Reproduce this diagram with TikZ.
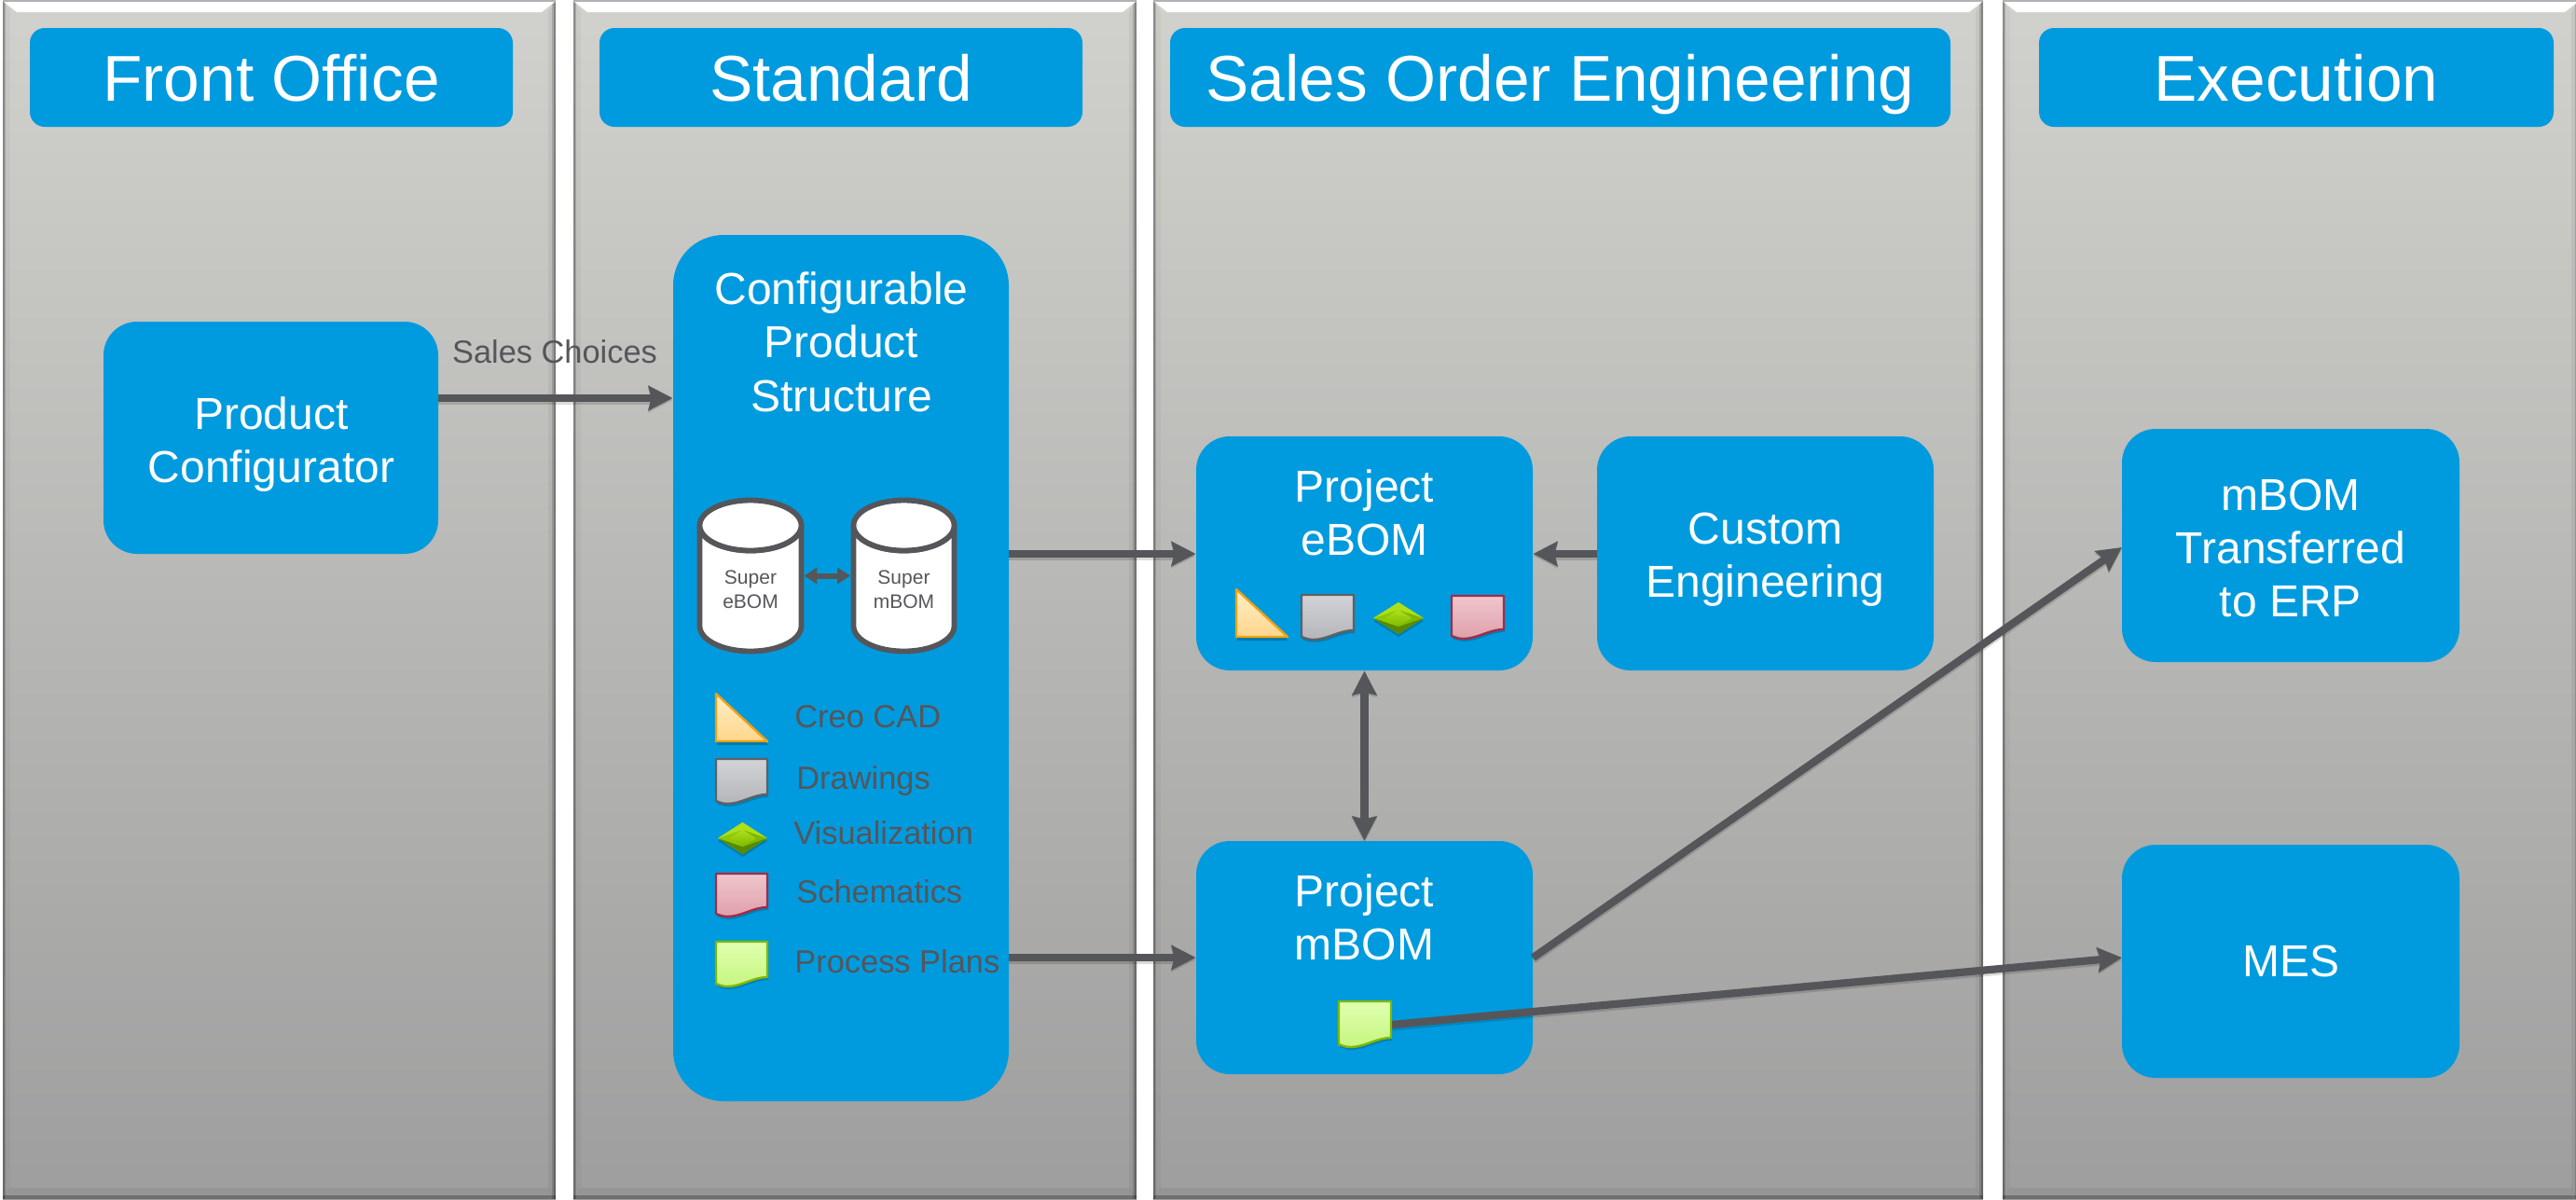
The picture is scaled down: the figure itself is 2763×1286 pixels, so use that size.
\documentclass[tikz,border=0pt]{standalone}
\usepackage{fontspec}
\setmainfont{Liberation Sans}
\usetikzlibrary{arrows.meta,calc}
\definecolor{bluebox}{HTML}{009BDE}
\definecolor{linegray}{HTML}{55565A}
\definecolor{pantop}{HTML}{D1D1CD}
\definecolor{panbot}{HTML}{9E9E9E}
\tikzset{
  x=0.5pt,y=-0.5pt,
  bigtip/.tip={Stealth[length=13pt,width=13pt,inset=1.5pt]},
  soft/.style={preaction={draw=black,draw opacity=.14,line width=4.6pt,transform canvas={yshift=-1pt}}},
  conn/.style={draw=linegray,line width=4.1pt,-bigtip,soft},
  connboth/.style={draw=linegray,line width=4.1pt,bigtip-bigtip,soft},
  connsmall/.style={draw=linegray,line width=3pt,{Triangle[length=7pt,width=8.5pt]}-{Triangle[length=7pt,width=8.5pt]}},
  boxtext/.style={text=white,align=center,font=\fontsize{24}{28.7}\selectfont},
  headtext/.style={text=white,text height=25pt,text depth=0pt,font=\fontsize{34.7}{40}\selectfont},
  legendtext/.style={text=linegray,anchor=base west,inner sep=0pt,font=\fontsize{17.2}{20}\selectfont},
  cyltext/.style={text=linegray,align=center,font=\fontsize{10.5}{13}\selectfont},
  cylstroke/.style={draw=linegray,line width=2.9pt,fill=white},
}
% panel x1 x2
\newcommand{\panelbg}[2]{%
  \fill[top color=pantop,bottom color=panbot,shading angle=0] (#1,0) rectangle (#2,1286);
  \fill[black,opacity=.03] (#1,0) -- (#1+8,12) -- (#1+8,1276) -- (#1,1286) -- cycle;
  \fill[black,opacity=.05] (#2,0) -- (#2-8,12) -- (#2-8,1276) -- (#2,1286) -- cycle;
  \fill[black,opacity=.15] (#1,0) rectangle (#1+3,1286);
  \fill[black,opacity=.18] (#1,0) rectangle (#1+1.5,1286);
  \fill[black,opacity=.15] (#2-4,0) rectangle (#2,1286);
  \fill[black,opacity=.22] (#2-2,0) rectangle (#2,1286);
  \fill[black,opacity=.05] (#1,1286) -- (#1+8,1274) -- (#2-8,1274) -- (#2,1286) -- cycle;
  \fill[black,opacity=.25] (#1,1286) rectangle (#2,1282);
  \fill[white] (#1+1,2) -- (#1+15,13) -- (#2-15,13) -- (#2-1,2) -- cycle;
  \fill[black!30] (#1,0) rectangle (#2,1.6);
}
% name x1 y1 x2 y2 radius(px in pt) text style text
\newcommand{\bluenode}[8]{%
  \pgfmathsetmacro{\bw}{(#4-#2)*0.5}\pgfmathsetmacro{\bh}{(#5-#3)*0.5}%
  \node[fill=bluebox,rounded corners=#6pt,inner sep=0pt,minimum width=\bw pt,minimum height=\bh pt,#7] (#1) at ({(#2+#4)/2},{(#3+#5)/2}) {#8};
}
% triangle icon x1 y1 x2 y2
\newcommand{\triicon}[4]{%
  \fill[black,opacity=.22] (#1+1,#2+4) -- (#3+1,#4+4) -- (#1+1,#4+4) -- cycle;
  \draw[draw=triS,line width=1.2pt,line join=round,top color=triT,bottom color=triB] (#1,#2) -- (#3,#4) -- (#1,#4) -- cycle;
}
% doc icon x1 y1 x2 y2 top bot stroke
\newcommand{\docicon}[7]{%
  \pgfmathsetmacro{\dw}{#3-#1}%
  \fill[black,opacity=.18] (#1+1,#2+4) -- (#3+1,#2+4) -- (#3+1,#4-7) .. controls (#1+0.72*\dw+1,#4-7) and (#1+0.5*\dw+1,#4+3) .. (#1+0.22*\dw+1,#4+3) .. controls (#1+0.12*\dw+1,#4+3) and (#1+0.05*\dw+1,#4+1) .. (#1+1,#4) -- cycle;
  \draw[draw=#7,line width=1.2pt,line join=round,top color=#5,bottom color=#6] (#1,#2) -- (#3,#2) -- (#3,#4-10) .. controls (#1+0.72*\dw,#4-10) and (#1+0.5*\dw,#4) .. (#1+0.22*\dw,#4) .. controls (#1+0.12*\dw,#4) and (#1+0.05*\dw,#4-2) .. (#1,#4-3) -- cycle;
}
% diamond icon x1 y1 x2 y2
\newcommand{\diaicon}[4]{%
  \pgfmathsetmacro{\cx}{(#1+#3)/2}\pgfmathsetmacro{\cy}{(#2+#4)/2}%
  \pgfmathsetmacro{\ix}{(#3-#1)*0.27}\pgfmathsetmacro{\iy}{(#4-#2)*0.27}%
  \fill[black,opacity=.2] (#1,\cy+3) -- (\cx,#2+3) -- (#3,\cy+3) -- (\cx,#4+3) -- cycle;
  \fill[diaL] (#1,\cy) -- (\cx,#2) -- (\cx,#4) -- cycle;
  \fill[diaR] (#3,\cy) -- (\cx,#2) -- (\cx,#4) -- cycle;
  \fill[diaT] (#1,\cy) -- (\cx,#2) -- (#3,\cy) -- (\cx,\cy-\iy) -- cycle;
  \fill[diaB] (#1,\cy) -- (\cx,#4) -- (#3,\cy) -- (\cx,\cy+\iy) -- cycle;
  \shade[top color=diaT,bottom color=diaR] (\cx-\ix,\cy) -- (\cx,\cy-\iy) -- (\cx+\ix,\cy) -- (\cx,\cy+\iy) -- cycle;
}
% cylinder name xc rx text
\newcommand{\cylnode}[4]{%
  \draw[cylstroke] (#2-#3,563.5) -- (#2-#3,671.5) arc[start angle=180,end angle=0,x radius=#3,y radius=27] -- (#2+#3,563.5) arc[start angle=0,end angle=180,x radius=#3,y radius=27] -- cycle;
  \draw[cylstroke] (#2,563.5) ellipse[x radius=#3,y radius=27];
  \node[minimum width=57pt,minimum height=83.5pt,inner sep=0pt] (#1) at (#2,617.5) {};
  \node[cyltext] (#1t) at (#2,632) {#4};
}
\definecolor{grayT}{HTML}{D2D3D6}\definecolor{grayB}{HTML}{B4B5B9}\definecolor{grayS}{HTML}{5F6064}
\definecolor{redT}{HTML}{EFC5CC}\definecolor{redB}{HTML}{DFA0AB}\definecolor{redS}{HTML}{A12C4A}
\definecolor{grnT}{HTML}{E0FFB0}\definecolor{grnB}{HTML}{C6F57F}\definecolor{grnS}{HTML}{80B800}
\definecolor{triT}{HTML}{FFEFC8}\definecolor{triB}{HTML}{FFD68C}\definecolor{triS}{HTML}{F2A111}
\definecolor{diaT}{HTML}{AEE01A}\definecolor{diaL}{HTML}{8CC808}\definecolor{diaR}{HTML}{7DB800}\definecolor{diaB}{HTML}{588A00}
\begin{document}
\begin{tikzpicture}
\useasboundingbox (0,0) rectangle (2763,1286);
\fill[white] (0,0) rectangle (2763,1286);
\panelbg{3}{596}
\panelbg{615}{1219}
\panelbg{1237}{2127}
\panelbg{2148}{2766}

\bluenode{hFO}{32}{30}{550}{136}{8}{headtext}{Front Office}
\bluenode{hST}{643}{30}{1161}{136}{8}{headtext}{Standard}
\bluenode{hSO}{1255}{30}{2092}{136}{8}{headtext}{Sales Order Engineering}
\bluenode{hEX}{2187}{30}{2739}{136}{8}{headtext}{Execution}

\bluenode{pc}{111}{345}{470}{594}{18}{}{}
\node[boxtext] (pct) at (291,476.5) {Product\\Configurator};
\bluenode{cps}{722}{252}{1082}{1181}{27}{}{}
\node[boxtext] (cpst) at (902.5,366.5) {Configurable\\Product\\Structure};
\bluenode{pe}{1283}{468}{1644}{719}{18}{}{}
\node[boxtext] (pet) at (1463.5,550) {Project\\eBOM};
\bluenode{ce}{1713}{468}{2074}{719}{18}{}{}
\node[boxtext] (cet) at (1893.5,600.5) {Custom\\Engineering};
\bluenode{pm}{1283}{902}{1644}{1152}{18}{}{}
\node[boxtext] (pmt) at (1463.5,984) {Project\\mBOM};
\bluenode{erp}{2276}{460}{2638}{710}{18}{}{}
\node[boxtext] (erpt) at (2457,588) {mBOM\\Transferred\\to ERP};
\bluenode{mes}{2276}{906}{2638}{1156}{18}{boxtext}{MES}

\cylnode{sE}{805}{54.5}{Super\\eBOM}
\cylnode{sM}{969.5}{54}{Super\\mBOM}
\draw[connsmall] (sE.east) -- (sM.west);

% legend
\triicon{768}{744}{823}{795}
\docicon{768}{814}{823}{862}{grayT}{grayB}{grayS}
\diaicon{770}{882}{823}{916}
\docicon{768}{937}{823}{983}{redT}{redB}{redS}
\docicon{768}{1010}{823}{1058}{grnT}{grnB}{grnS}
\node[legendtext] (l1) at (852,780) {Creo CAD};
\node[legendtext] (l2) at (854,846) {Drawings};
\node[legendtext] (l3) at (851,905) {Visualization};
\node[legendtext] (l4) at (854,968) {Schematics};
\node[legendtext] (l5) at (852,1043) {Process Plans};

% project eBOM icons
\triicon{1326}{632}{1381}{683}
\docicon{1396}{638}{1452}{686}{grayT}{grayB}{grayS}
\diaicon{1473}{646}{1527}{680}
\docicon{1557}{639}{1613}{685}{redT}{redB}{redS}

% project mBOM icon
\coordinate (planicon) at (1492,1099);
\coordinate (y1) at (0,427);
\coordinate (y2) at (0,594);
\coordinate (y3) at (0,1027);
\coordinate (y4) at (2276,587);
\coordinate (y5) at (2276,1027);

\draw[conn] (pc.east |- y1) -- (cps.west |- y1);
\node[text=linegray,font=\fontsize{17.2}{20}\selectfont] (sc) at (595,377) {Sales Choices};
\draw[conn] (cps.east |- y2) -- (pe.west |- y2);
\draw[conn] (ce.west |- y2) -- (pe.east |- y2);
\draw[conn] (cps.east |- y3) -- (pm.west |- y3);
\draw[connboth] (pe.south) -- (pm.north);
\draw[conn] (pm.east |- y3) -- (y4);
\draw[conn] (planicon) -- (y5);
\docicon{1436}{1074}{1492}{1123}{grnT}{grnB}{grnS}
\end{tikzpicture}
\end{document}
